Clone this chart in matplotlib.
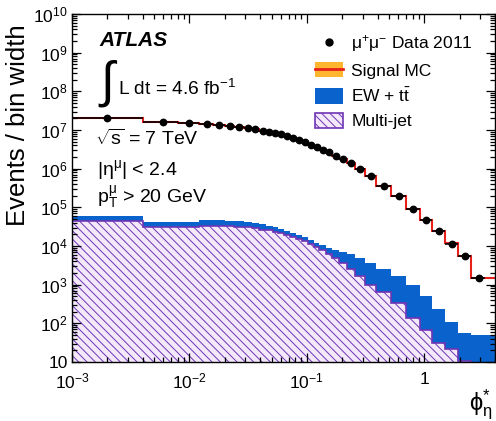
import numpy as np
import matplotlib
matplotlib.use('Agg')
import matplotlib.pyplot as plt
from matplotlib.patches import Patch
from matplotlib.lines import Line2D
from matplotlib.ticker import FixedLocator, FixedFormatter, LogLocator, NullFormatter

plt.rcParams['font.family'] = ['Liberation Sans', 'DejaVu Sans']
plt.rcParams['mathtext.fontset'] = 'custom'
plt.rcParams['mathtext.rm'] = 'Liberation Sans'
plt.rcParams['mathtext.it'] = 'Liberation Sans'
plt.rcParams['mathtext.default'] = 'regular'
plt.rcParams['hatch.linewidth'] = 0.7

# ---------------- data ----------------
bin_edges = [0.0, 0.004, 0.008, 0.012, 0.016, 0.020, 0.024, 0.029, 0.034, 0.039,
             0.045, 0.051, 0.057, 0.064, 0.072, 0.081, 0.091, 0.102, 0.114, 0.128,
             0.145, 0.165, 0.189, 0.219, 0.258, 0.312, 0.391, 0.524, 0.695, 0.918,
             1.153, 1.496, 1.947, 2.522, 3.277]

data_2011 = [2.08e7, 1.64e7, 1.55e7, 1.43e7, 1.35e7, 1.29e7, 1.20e7, 1.11e7, 1.04e7, 9.6e6,
             9.0e6, 8.4e6, 7.7e6, 7.0e6, 6.3e6, 5.6e6, 4.9e6, 4.2e6, 3.57e6, 3.13e6,
             2.65e6, 2.16e6, 1.78e6, 1.38e6, 9.6e5, 6.5e5, 3.6e5, 1.93e5, 9.2e4, 4.7e4,
             2.5e4, 1.15e4, 5.6e3, 1.46e3]

signal_mc = [2.10e7, 1.62e7, 1.56e7, 1.44e7, 1.34e7, 1.28e7, 1.21e7, 1.12e7, 1.04e7, 9.7e6,
             9.0e6, 8.3e6, 7.7e6, 7.0e6, 6.3e6, 5.6e6, 4.9e6, 4.2e6, 3.6e6, 3.1e6,
             2.65e6, 2.18e6, 1.76e6, 1.37e6, 9.7e5, 6.4e5, 3.6e5, 1.95e5, 9.3e4, 4.6e4,
             2.5e4, 1.17e4, 5.5e3, 1.5e3]
signal_mc_unc = 0.05

multijet = [4.51e4, 3.10e4, 3.10e4, 3.35e4, 3.35e4, 3.29e4, 3.19e4, 3.01e4, 2.84e4, 2.67e4,
            2.52e4, 2.30e4, 2.17e4, 1.92e4, 1.76e4, 1.56e4, 1.35e4, 1.16e4, 9.7e3, 7.9e3,
            6.2e3, 4.9e3, 3.6e3, 2.54e3, 1.67e3, 980, 646, 336, 137, 67,
            31, 21.7, 10.5, 0]

ew_ttbar = [1.57e4, 1.15e4, 1.15e4, 1.35e4, 1.35e4, 1.27e4, 1.24e4, 1.17e4, 1.09e4, 9.3e3,
            7.7e3, 7.1e3, 5.8e3, 5.2e3, 4.1e3, 3.6e3, 3.1e3, 2.7e3, 2.6e3, 2.7e3,
            2.9e3, 3.2e3, 3.6e3, 3.66e3, 3.2e3, 2.6e3, 1.9e3, 1.33e3, 843, 442,
            204, 86, 46, 50]

x_min, x_max = 1e-3, 4.0
y_min, y_max = 10, 1e10
xtick_vals = [1e-3, 1e-2, 1e-1, 1]
xtick_labels = ['$10^{-3}$', '$10^{-2}$', '$10^{-1}$', '1']
ytick_vals = [1e1, 1e2, 1e3, 1e4, 1e5, 1e6, 1e7, 1e8, 1e9, 1e10]
ytick_labels = ['10', '$10^{2}$', '$10^{3}$', '$10^{4}$', '$10^{5}$', '$10^{6}$',
                '$10^{7}$', '$10^{8}$', '$10^{9}$', '$10^{10}$']

# ---------------- colours ----------------
c_blue = '#0a63cc'
c_mj_face = '#f3e9fb'
c_mj_edge = '#6f35b5'
c_band = '#ffb52e'
c_red = '#e8201a'

# ---------------- figure ----------------
fig = plt.figure(figsize=(4.96, 4.21), dpi=100)
ax = fig.add_axes([72/496, 1-362/421, 423/496, 348/421])
ax.set_xscale('log')
ax.set_yscale('log')

edges = np.array(bin_edges, dtype=float)
draw_edges = edges.copy()
draw_edges[0] = x_min
draw_edges[-1] = x_max

mj = np.array(multijet, dtype=float)
ew = np.array(ew_ttbar, dtype=float)
bg_total = mj + ew
mj_plot = np.where(mj > 0, mj, 1.0)
base = 1.0

ax.stairs(bg_total, draw_edges, baseline=base, fill=True, color=c_blue, lw=0)
ax.stairs(mj_plot, draw_edges, baseline=base, fill=True, facecolor=c_mj_face,
          edgecolor=c_mj_edge, hatch='\\\\\\\\', lw=1.2)

mc = np.array(signal_mc, dtype=float)
ax.stairs(mc * (1 + signal_mc_unc), draw_edges, baseline=mc * (1 - signal_mc_unc),
          fill=True, color=c_band, lw=0)
ax.stairs(mc, draw_edges, baseline=None, color=c_red, lw=1.5)

d = np.array(data_2011, dtype=float)
lo_edge = np.maximum(edges[:-1], x_min)
hi_edge = edges[1:]
centers = 0.5 * (edges[:-1] + edges[1:])
ax.errorbar(centers, d, xerr=[centers - lo_edge, hi_edge - centers], fmt='o',
            color='black', ms=4.6, elinewidth=1.2, capsize=0, zorder=5)

ax.set_xlim(x_min, x_max)
ax.set_ylim(y_min, y_max)

ax.xaxis.set_major_locator(FixedLocator(xtick_vals))
ax.xaxis.set_major_formatter(FixedFormatter(xtick_labels))
ax.xaxis.set_minor_locator(LogLocator(base=10, subs=np.arange(2, 10), numticks=20))
ax.xaxis.set_minor_formatter(NullFormatter())
ax.yaxis.set_major_locator(FixedLocator(ytick_vals))
ax.yaxis.set_major_formatter(FixedFormatter(ytick_labels))
ax.yaxis.set_minor_locator(LogLocator(base=10, subs=np.arange(2, 10), numticks=20))
ax.yaxis.set_minor_formatter(NullFormatter())
ax.tick_params(which='both', direction='in', top=True, right=True, labelsize=12.5, width=0.9)
ax.tick_params(which='major', length=6.5)
ax.tick_params(which='minor', length=3.6)
ax.tick_params(axis='x', which='major', pad=7)
ax.tick_params(axis='y', which='major', pad=3)
for s in ax.spines.values():
    s.set_linewidth(1.0)

ax.set_ylabel('Events / bin width', fontsize=18.5)
ax.yaxis.set_label_coords(-0.1, 0.68)
ax.text(0.995, -0.124, r'$\phi^{*}_{\eta}$', transform=ax.transAxes, fontsize=17,
        ha='right', va='center')

# annotations
ax.text(0.064, 0.925, 'ATLAS', transform=ax.transAxes, fontsize=15,
        fontweight='bold', fontstyle='italic', va='center', ha='left')
ax.text(0.062, 0.800, r'$\int$', transform=ax.transAxes, fontsize=36,
        math_fontfamily='stix', va='center', ha='left')
ax.text(0.109, 0.784, r'L dt = 4.6 fb$^{-1}$', transform=ax.transAxes, fontsize=13.8,
        va='center', ha='left')
ax.text(0.055, 0.641, r'$\sqrt{s}$ = 7 TeV', transform=ax.transAxes, fontsize=14,
        va='center', ha='left')
ax.text(0.060, 0.552, r'|$\eta^{\mu}$| < 2.4', transform=ax.transAxes, fontsize=14,
        va='center', ha='left')
ax.text(0.060, 0.474, r'$p_{T}^{\mu}$ > 20 GeV', transform=ax.transAxes, fontsize=14,
        va='center', ha='left')

handles = [
    Line2D([], [], marker='o', color='black', ls='none', ms=5),
    (Patch(facecolor=c_band, edgecolor='none'), Line2D([], [], color=c_red, lw=2)),
    Patch(facecolor=c_blue, edgecolor='none'),
    Patch(facecolor=c_mj_face, edgecolor=c_mj_edge, hatch='\\\\\\\\', lw=1.2),
]
labels = [r'$\mu^{+}\mu^{-}$ Data 2011', 'Signal MC', r'EW + t$\bar{t}$', 'Multi-jet']
ax.legend(handles, labels, loc='upper left', bbox_to_anchor=(0.574, 0.945),
          frameon=False, fontsize=12.5, handlelength=1.6, handleheight=1.0,
          labelspacing=0.45, handletextpad=0.5, borderpad=0, borderaxespad=0)

fig.savefig('out.png', dpi=100)
